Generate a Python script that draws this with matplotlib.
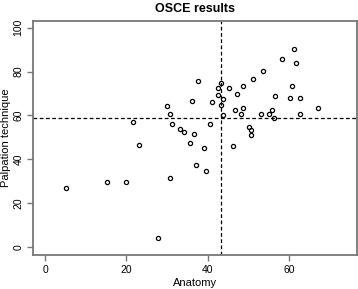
import matplotlib
matplotlib.use("Agg")
import matplotlib.pyplot as plt

plt.rcParams["font.family"] = ["Liberation Sans", "DejaVu Sans"]

# scores
anatomy = [
    61.3, 58.2, 61.7, 53.7, 37.7, 51.2, 43.2, 42.6, 45.2, 48.7,
    60.8, 42.6, 43.7, 47.2, 56.7, 60.2, 62.7, 36.1, 41.1, 43.2,
    46.7, 48.7, 55.8, 67.2, 48.1, 53.1, 55.2, 56.3, 62.7, 43.7,
    30.1, 30.7, 21.7, 31.2, 33.1, 34.2, 36.6, 23.2, 35.6, 40.6,
    50.1, 50.7, 50.7, 39.2, 46.2, 37.1, 39.7, 5.1, 15.1, 20.0,
    30.7, 27.7,
]
palpation = [
    90.1, 85.6, 84.0, 80.1, 75.5, 76.6, 74.6, 72.5, 72.6, 73.5,
    73.5, 69.1, 67.6, 69.6, 68.9, 68.0, 68.0, 66.5, 66.1, 64.6,
    62.6, 63.5, 62.4, 63.5, 60.6, 60.6, 60.6, 58.9, 60.6, 60.0,
    64.4, 60.5, 57.1, 55.9, 53.6, 52.5, 51.5, 46.4, 47.5, 56.0,
    54.5, 53.4, 51.0, 45.1, 46.0, 37.4, 34.4, 26.9, 29.4, 29.4,
    31.5, 4.0,
]
anatomy_ref = 43.4
palpation_ref = 58.8

x_ticks = [0, 20, 40, 60]
y_ticks = [0, 20, 40, 60, 80, 100]

fig = plt.figure(figsize=(3.58, 2.89), dpi=100)
ax = fig.add_axes([33.3 / 358, 33.7 / 289, (357 - 33.3) / 358, (255.3 - 20.7) / 289])

ax.plot(anatomy, palpation, "o", mfc="none", mec="black", ms=3.0, mew=0.9)
ax.axvline(anatomy_ref, color="black", lw=0.9, ls=(0, (3, 2)))
ax.axhline(palpation_ref, color="black", lw=0.9, ls=(0, (3, 2)))

ax.set_xlim(-2.96, 76.8)
ax.set_ylim(-3.9, 103.2)
ax.set_xticks(x_ticks)
ax.set_yticks(y_ticks)
ax.set_yticklabels([str(t) for t in y_ticks], rotation=90, va="center")

for s in ax.spines.values():
    s.set_color("#777777")
    s.set_linewidth(1.3)
ax.tick_params(length=4, width=1.0, color="#777777", labelsize=7.5, pad=3)

ax.set_xlabel("Anatomy", fontsize=8)
ax.set_ylabel("Palpation technique", fontsize=8)
ax.xaxis.set_label_coords(0.5, -0.117)
ax.yaxis.set_label_coords(-0.084, 0.5)
ax.xaxis.label.set_va("center")
ax.yaxis.label.set_va("center")
ax.set_title("OSCE results", fontsize=9, fontweight="bold", pad=6)

fig.savefig("out.png", dpi=100)
